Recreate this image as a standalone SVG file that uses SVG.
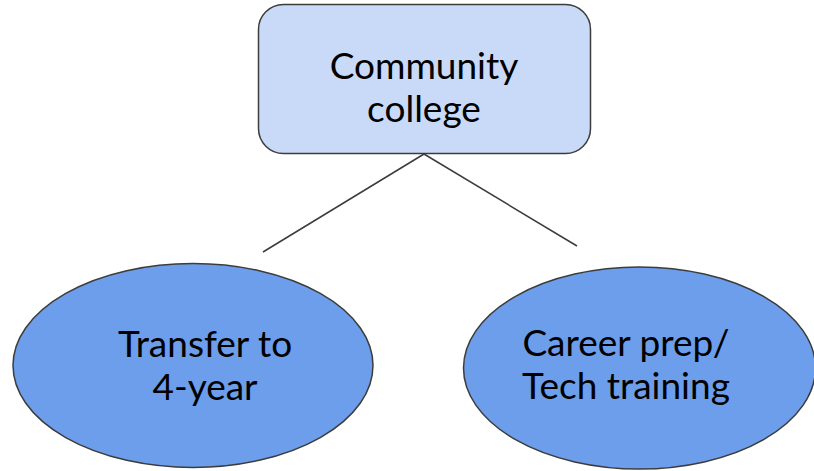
<svg xmlns="http://www.w3.org/2000/svg" width="814" height="471" viewBox="0 0 814 471">
<style>
.t{font-family:Lato,"Liberation Sans",sans-serif;font-size:37px;fill:#000;text-anchor:middle}
.s{stroke:#3c3c3c;stroke-width:1.5}
</style>
<rect width="814" height="471" fill="#fff"/>
<g id="connectors" class="s" fill="none">
<line x1="424" y1="154" x2="263" y2="252"/>
<line x1="424" y1="154" x2="577" y2="246"/>
</g>
<g id="node-community">
<rect x="258.5" y="4.5" width="332" height="149" rx="25" fill="#c9daf8" class="s"/>
<text class="t" x="424" y="79">Community</text>
<text class="t" x="424" y="122">college</text>
</g>
<g id="node-transfer">
<ellipse cx="193" cy="365.5" rx="180" ry="102" fill="#6d9eeb" class="s"/>
<text class="t" x="205" y="357">Transfer to</text>
<text class="t" x="205" y="400">4-year</text>
</g>
<g id="node-career">
<ellipse cx="639.5" cy="368" rx="176" ry="101" fill="#6d9eeb" class="s"/>
<text class="t" x="626" y="356">Career prep/</text>
<text class="t" x="626" y="399">Tech training</text>
</g>
</svg>
